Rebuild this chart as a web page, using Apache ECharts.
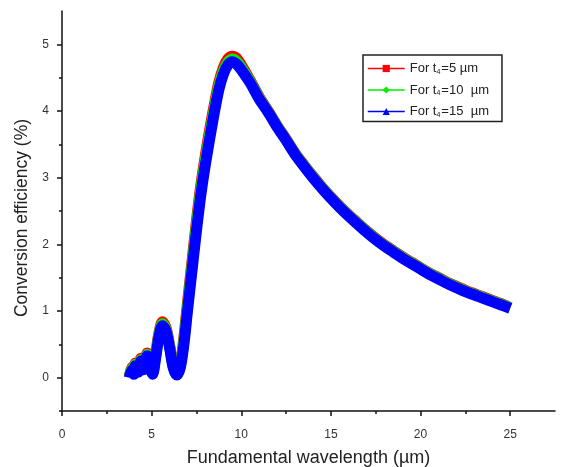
<!DOCTYPE html>
<html>
<head>
<meta charset="utf-8">
<script src="https://cdn.jsdelivr.net/npm/echarts@6/dist/echarts.min.js"></script>
<style>
  html, body { margin: 0; padding: 0; background: #fff; }
  #main { width: 562px; height: 467px; }
</style>
</head>
<body>
<div id="main"></div>
<script>
// 波长 (µm)
var wavelength = [3.75, 3.9, 4.0, 4.1, 4.25, 4.4, 4.55, 4.75, 4.9, 5.05,
  5.2, 5.4, 5.6, 5.8, 6.0, 6.2, 6.4, 6.6, 6.8, 7.0,
  7.25, 7.5, 7.75, 8.0, 8.25, 8.5, 8.75, 9.0, 9.25, 9.5,
  9.75, 10, 10.5, 11, 11.5, 12, 12.5, 13, 13.5, 14, 14.5, 15, 15.5, 16, 16.5, 17,
  17.5, 18, 18.5, 19, 19.5, 20, 20.5, 21, 21.5, 22, 22.5, 23, 23.5, 24, 24.5, 25];

// 转换效率 (%)
var effT5 = [0.02, 0.16, 0.08, 0.22, 0.11, 0.29, 0.15, 0.37, 0.18, 0.07,
  0.3, 0.66, 0.84, 0.75, 0.49, 0.18, 0.06, 0.2, 0.6, 1.12,
  1.74, 2.35, 2.9, 3.34, 3.74, 4.1, 4.43, 4.65, 4.78, 4.82,
  4.79, 4.69, 4.46, 4.21, 4.0, 3.78, 3.58, 3.37, 3.19, 3.02, 2.86, 2.71, 2.57, 2.44, 2.32, 2.2,
  2.09, 1.99, 1.9, 1.81, 1.73, 1.65, 1.57, 1.5, 1.43, 1.37, 1.31, 1.26, 1.21, 1.16, 1.11, 1.05];
var effT10 = [0.01, 0.14, 0.07, 0.2, 0.1, 0.27, 0.14, 0.35, 0.17, 0.06,
  0.28, 0.63, 0.81, 0.72, 0.47, 0.17, 0.05, 0.18, 0.55, 1.06,
  1.67, 2.28, 2.83, 3.27, 3.67, 4.04, 4.38, 4.6, 4.73, 4.78,
  4.74, 4.65, 4.44, 4.19, 3.99, 3.77, 3.57, 3.36, 3.18, 3.01, 2.85, 2.7, 2.56, 2.43, 2.31, 2.19,
  2.08, 1.98, 1.89, 1.8, 1.72, 1.64, 1.56, 1.49, 1.42, 1.36, 1.3, 1.25, 1.2, 1.15, 1.1, 1.05];
var effT15 = [0.0, 0.12, 0.05, 0.18, 0.08, 0.25, 0.12, 0.33, 0.15, 0.05,
  0.25, 0.6, 0.78, 0.7, 0.45, 0.15, 0.04, 0.15, 0.5, 1.0,
  1.6, 2.2, 2.75, 3.2, 3.6, 3.98, 4.32, 4.55, 4.69, 4.74,
  4.7, 4.62, 4.42, 4.18, 3.98, 3.76, 3.56, 3.35, 3.17, 3.0, 2.84, 2.69, 2.55, 2.42, 2.3, 2.18,
  2.07, 1.97, 1.88, 1.79, 1.71, 1.63, 1.55, 1.48, 1.41, 1.35, 1.29, 1.24, 1.19, 1.14, 1.09, 1.04];

var xTicks = [0, 5, 10, 15, 20, 25];
var xMinor = [2.5, 7.5, 12.5, 17.5, 22.5];
var yTicks = [0, 1, 2, 3, 4, 5];
var yMinor = [-0.5, 0.5, 1.5, 2.5, 3.5, 4.5];

var seriesNames = ['t5', 't10', 't15'];
var legendText = {
  t5: '{a|For t}{s|4}{a|=5 µm}',
  t10: '{a|For t}{s|4}{a|=10  µm}',
  t15: '{a|For t}{s|4}{a|=15  µm}'
};

function pairs(ys) {
  var out = [];
  for (var i = 0; i < wavelength.length; i++) {
    out.push([wavelength[i], ys[i]]);
  }
  return out;
}

var chart = echarts.init(document.getElementById('main'), null, { renderer: 'canvas' });
var font = 'Liberation Sans, Arial, sans-serif';
var axisBlack = { color: '#111', width: 1.5 };

function lineSeries(name, ys, color, symbol) {
  return {
    name: name,
    type: 'line',
    data: pairs(ys),
    symbol: symbol,
    symbolSize: 9,
    showSymbol: false,
    smooth: 0.3,
    lineStyle: { color: color, width: 11 },
    itemStyle: { color: color },
    emphasis: { disabled: true },
    z: 2
  };
}

// 只画刻度的辅助坐标轴
function tickAxis(pos, min, max, values, len) {
  return {
    type: 'value',
    position: pos,
    min: min,
    max: max,
    axisLine: { show: false, onZero: false },
    axisTick: { show: true, customValues: values, length: len, lineStyle: axisBlack },
    axisLabel: { show: false },
    splitLine: { show: false }
  };
}

var option = {
  animation: false,
  grid: { left: 62, right: 7, top: 11, bottom: 56, outerBoundsMode: 'none' },
  legend: {
    orient: 'vertical',
    left: 363,
    top: 55,
    data: seriesNames,
    itemWidth: 37,
    itemHeight: 9,
    itemGap: 8,
    padding: [7, 13, 3, 4],
    borderColor: '#222',
    borderWidth: 1.5,
    borderRadius: 0,
    lineStyle: { width: 1.5 },
    formatter: function (n) { return legendText[n]; },
    textStyle: {
      fontFamily: font,
      color: '#222',
      rich: {
        a: { fontSize: 13, fontFamily: font, color: '#222', letterSpacing: 0.9 },
        s: { fontSize: 7, fontFamily: font, color: '#222', verticalAlign: 'bottom', padding: [7, 1, 0, 0] }
      }
    }
  },
  xAxis: [{
    type: 'value',
    min: 0,
    max: 27.5,
    name: 'Fundamental wavelength (µm)',
    nameLocation: 'middle',
    nameGap: 38,
    nameTextStyle: { fontFamily: font, fontSize: 18, color: '#222' },
    axisLine: { show: true, onZero: false, lineStyle: axisBlack },
    axisTick: { show: false },
    axisLabel: { show: true, customValues: xTicks, fontFamily: font, fontSize: 12, color: '#333', margin: 18 },
    splitLine: { show: false }
  },
  tickAxis('bottom', 0, 27.5, xTicks, 5),
  tickAxis('bottom', 0, 27.5, xMinor, 3)],
  yAxis: [{
    type: 'value',
    min: -0.5,
    max: 5.5,
    name: 'Conversion efficiency (%)',
    nameLocation: 'middle',
    nameGap: 30,
    nameTextStyle: { fontFamily: font, fontSize: 17.5, color: '#222', padding: [0, 14, 0, 0] },
    axisLine: { show: true, onZero: false, lineStyle: axisBlack },
    axisTick: { show: true, customValues: yTicks, length: 5, lineStyle: axisBlack },
    axisLabel: { customValues: yTicks, fontFamily: font, fontSize: 12, color: '#333', margin: 13 },
    splitLine: { show: false }
  },
  tickAxis('left', -0.5, 5.5, yMinor, 3)],
  series: [
    lineSeries('t5', effT5, '#ff0000', 'rect'),
    lineSeries('t10', effT10, '#00ee00', 'diamond'),
    lineSeries('t15', effT15, '#0000ff', 'triangle')
  ]
};

chart.setOption(option);
</script>
</body>
</html>
